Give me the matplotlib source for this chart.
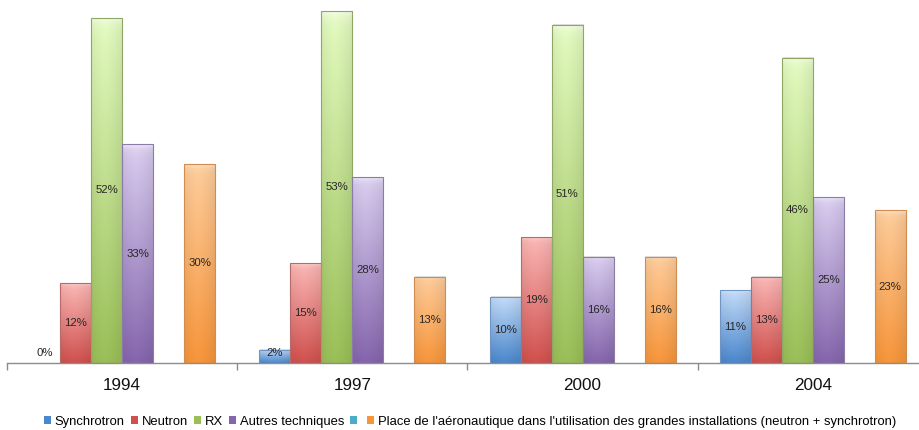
import numpy as np
import matplotlib
matplotlib.use("Agg")
import matplotlib.pyplot as plt
from matplotlib.colors import to_rgb
from matplotlib.patches import Rectangle

plt.rcParams["font.family"] = ["Liberation Sans", "DejaVu Sans"]

# ---- data ----
years = ["1994", "1997", "2000", "2004"]
series_names = [
    "Synchrotron",
    "Neutron",
    "RX",
    "Autres techniques",
    "",
    "Place de l'aéronautique dans l'utilisation des grandes installations (neutron + synchrotron)",
]
synchrotron = [0, 2, 10, 11]
neutron = [12, 15, 19, 13]
rx = [52, 53, 51, 46]
autres = [33, 28, 16, 25]
empty_series = [np.nan, np.nan, np.nan, np.nan]
aeronautique = [30, 13, 16, 23]

series_values = [synchrotron, neutron, rx, autres, empty_series, aeronautique]

# gradient colours (top, bottom) for each series
gradients = [
    ("#c4dcf9", "#4a87cd"),
    ("#fbb8b6", "#d0504d"),
    ("#e3fbc0", "#9abf57"),
    ("#dacef0", "#8565ad"),
    ("#bfeaf6", "#4bacc6"),
    ("#fecd9c", "#f7953a"),
]
edge_colors = ["#6f95c4", "#b86a68", "#8ea766", "#8c7aa8", "#6ab0c4", "#d08d4f"]

fig = plt.figure(figsize=(9.2, 4.3), dpi=100)
ax = fig.add_axes([7 / 920, 67 / 430, 921 / 920, 363 / 430])

n_series = len(series_values)
width = 0.1345
x = np.arange(len(years))


def gradient_image(top, bottom, nx=40, ny=120):
    t = np.linspace(0, 1, ny)[:, None]  # 0 at top, 1 at bottom
    c_top = np.array(to_rgb(top))
    c_bot = np.array(to_rgb(bottom))
    col = c_top[None, None, :] * (1 - t[..., None]) + c_bot[None, None, :] * t[..., None]
    col = np.repeat(col, nx, axis=1)
    u = np.linspace(0, 1, nx)[None, :]
    shade = 1 - 0.08 * np.abs(u - 0.45) ** 1.5 * 2.2
    col = col * shade[..., None]
    # thin highlight near the top edge
    hl = np.exp(-((np.linspace(0, 1, ny) * ny) / 2.0))[:, None, None]
    col = col * (1 - 0.5 * hl) + 0.5 * hl
    return np.clip(col, 0, 1)


for i, vals in enumerate(series_values):
    offs = (i - (n_series - 1) / 2) * width
    vals_arr = np.array(vals, dtype=float)
    bars = ax.bar(x + offs, np.nan_to_num(vals_arr), width, facecolor="none",
                  edgecolor="none", zorder=2, label=series_names[i])
    for bar, v in zip(bars, vals_arr):
        if np.isnan(v):
            continue
        bx, bw, bh = bar.get_x(), bar.get_width(), bar.get_height()
        if bh > 0:
            # soft shadow to the right
            ax.add_patch(Rectangle((bx + 0.004, 0), bw, bh + 0.05, facecolor="#000000",
                                   alpha=0.12, edgecolor="none", zorder=1.5))
            img = ax.imshow(gradient_image(*gradients[i]), extent=(bx, bx + bw, 0, bh),
                            aspect="auto", origin="upper", zorder=2.2, interpolation="bilinear")
            img.set_clip_path(bar)
            ax.add_patch(Rectangle((bx, 0), bw, bh, facecolor="none",
                                   edgecolor=edge_colors[i], linewidth=0.8, zorder=2.4))
        ax.text(bx + bw / 2, max(v / 2, 1.5), f"{int(round(v))}%", ha="center", va="center",
                fontsize=8.2, color="#262626", zorder=3)

ax.set_xlim(-0.5, len(years) - 0.5)
ax.set_ylim(0, 54.7)
ax.set_yticks([])
for side in ("left", "right", "top"):
    ax.spines[side].set_visible(False)
ax.spines["bottom"].set_color("#8c8c8c")
ax.spines["bottom"].set_linewidth(1.0)
ax.set_xticks(x)
ax.set_xticklabels(years, fontsize=12.3, color="#111111")
ax.tick_params(axis="x", which="major", length=0, pad=11)
ax.set_xticks(np.arange(-0.5, len(years)), minor=True)
ax.tick_params(axis="x", which="minor", length=5, color="#8c8c8c", width=1.0)

handles = [Rectangle((0, 0), 1, 1, facecolor=g[1], edgecolor="none") for g in gradients]
fig.legend(handles, series_names, loc="lower center", bbox_to_anchor=(0.511, -0.013),
           ncol=6, frameon=False, fontsize=9.4, handlelength=0.55, handleheight=0.55,
           handletextpad=0.3, columnspacing=0.45, borderaxespad=0.2)

fig.savefig("out.png", dpi=100)
